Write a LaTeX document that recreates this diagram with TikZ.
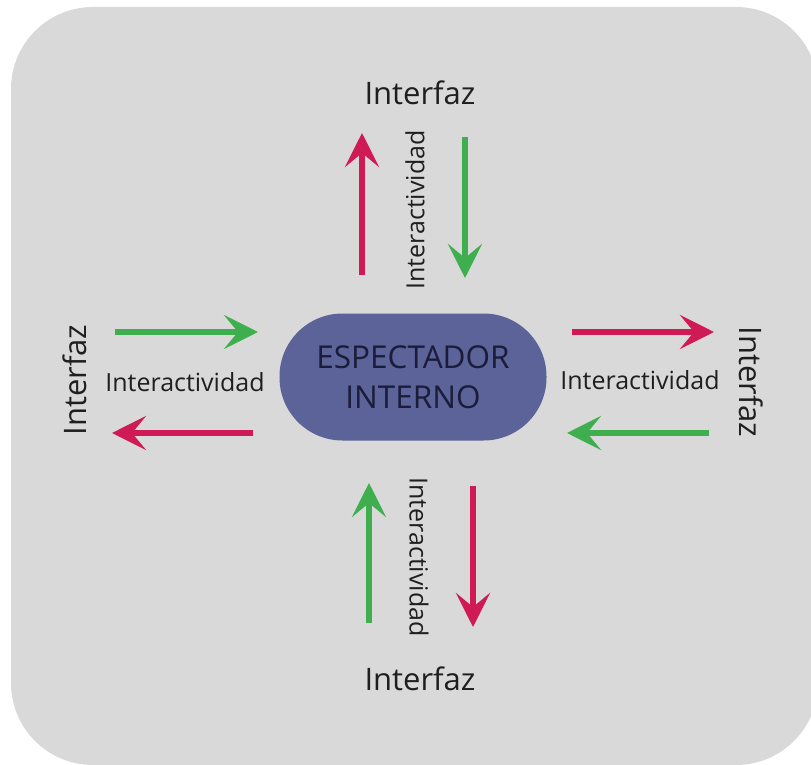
\documentclass[tikz,border=0pt]{standalone}
\usepackage{fontspec}
\setmainfont{Open Sans}
\usetikzlibrary{arrows.meta}
\definecolor{bgray}{HTML}{D9D9D9}
\definecolor{oval}{HTML}{5B6398}
\definecolor{ovaltext}{HTML}{1A1C3A}
\definecolor{ared}{HTML}{D01A55}
\definecolor{agreen}{HTML}{3FAE4F}
\tikzset{
  big/.style={font=\fontsize{31}{36}\selectfont, text=black!88, inner sep=0pt},
  small/.style={font=\fontsize{25}{30}\selectfont, text=black!88, inner sep=0pt},
  arr/.style={line width=6.5pt, -{Stealth[length=34pt,width=34pt,inset=14pt]}},
  redarr/.style={arr, draw=ared},
  greenarr/.style={arr, draw=agreen},
}
\begin{document}
\begin{tikzpicture}[x=1pt,y=-1pt]
\useasboundingbox (0,0) rectangle (811,765);
\fill[bgray, rounded corners=82pt] (11,7) rectangle (818,765);
% centre
\node[fill=oval, rounded corners=63pt, minimum width=267pt, minimum height=127pt,
      text=ovaltext, align=center, inner sep=0pt,
      font=\fontsize{31.5}{40}\selectfont] (esp) at (413,377) {ESPECTADOR\\INTERNO};
% labels
\node[big, anchor=base] (itop) at (420,105) {Interfaz};
\node[big, anchor=base] (ibot) at (420,690) {Interfaz};
\node[big, rotate=90] (ileft) at (75,380) {Interfaz};
\node[big, rotate=-90] (iright) at (751,382) {Interfaz};
\node[small, rotate=90] (atop) at (415,210) {Interactividad};
\node[small, rotate=-90] (abot) at (419,557) {Interactividad};
\node[small] (aleft) at (185,382) {Interactividad};
\node[small] (aright) at (640,380) {Interactividad};
% arrow end points
\coordinate (t1s) at (362,275); \coordinate (t1e) at (362,133);
\coordinate (t2s) at (465,137); \coordinate (t2e) at (465,278);
\coordinate (b1s) at (369,623); \coordinate (b1e) at (369,483);
\coordinate (b2s) at (473,486); \coordinate (b2e) at (473,627);
\coordinate (l1s) at (115,332); \coordinate (l1e) at (258,332);
\coordinate (l2s) at (253,433); \coordinate (l2e) at (112,433);
\coordinate (r1s) at (572,332); \coordinate (r1e) at (714,332);
\coordinate (r2s) at (709,433); \coordinate (r2e) at (567,433);
\draw[redarr] (t1s) -- (t1e);
\draw[greenarr] (t2s) -- (t2e);
\draw[greenarr] (b1s) -- (b1e);
\draw[redarr] (b2s) -- (b2e);
\draw[greenarr] (l1s) -- (l1e);
\draw[redarr] (l2s) -- (l2e);
\draw[redarr] (r1s) -- (r1e);
\draw[greenarr] (r2s) -- (r2e);
\end{tikzpicture}
\end{document}
